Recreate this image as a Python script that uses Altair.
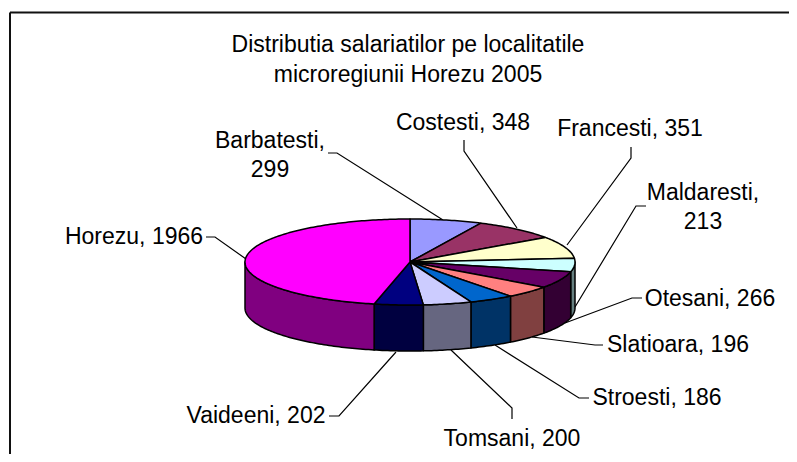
import math
import altair as alt
import pandas as pd

# --- chart values -----------------------------------------------------------
names = ["Barbatesti", "Costesti", "Francesti", "Maldaresti", "Otesani",
         "Slatioara", "Stroesti", "Tomsani", "Vaideeni", "Horezu"]
values = [299, 348, 351, 213, 266, 196, 186, 200, 202, 1966]
top_colors = ["#9999FF", "#993366", "#FFFFCC", "#CCFFFF", "#660066",
              "#FF8080", "#0066CC", "#CCCCFF", "#000080", "#FF00FF"]
side_colors = ["#4D4D80", "#4D1A33", "#808066", "#668080", "#330033",
               "#804040", "#003366", "#666680", "#000040", "#800080"]
title_text = "Distributia salariatilor pe localitatile\nmicroregiunii Horezu 2005"
label_breaks = {"Barbatesti", "Maldaresti"}

# --- layout (page pixels) ---------------------------------------------------
M = 8
W, H = 781, 446
CX, CY, RX, RY, DEPTH = 410, 262, 165, 43, 46
FONT_SIZE = 23
label_pos = {"Barbatesti": (270, 141), "Costesti": (463, 123), "Francesti": (630, 129),
             "Maldaresti": (703, 193), "Otesani": (710, 299), "Slatioara": (678, 345),
             "Stroesti": (657, 398), "Tomsani": (512, 439), "Vaideeni": (256, 416),
             "Horezu": (134, 237)}
leader_pos = {"Barbatesti": [(328, 153), (337, 153), (443, 220)],
              "Costesti": [(464, 140), (464, 151), (517, 228)],
              "Francesti": [(631, 147), (631, 158), (567, 245)],
              "Maldaresti": [(646, 206), (636, 206), (575, 307)],
              "Otesani": [(642, 298), (632, 298), (565, 323)],
              "Slatioara": [(603, 345), (595, 345), (532, 337)],
              "Stroesti": [(589, 398), (579, 398), (495, 345)],
              "Tomsani": [(512, 419), (512, 408), (451, 350)],
              "Vaideeni": [(329, 416), (339, 416), (396, 352)],
              "Horezu": [(206, 237), (215, 237), (246, 259)]}


def pt(deg, dy=0):
    a = math.radians(deg)
    return [CX + RX * math.sin(a) - M, CY - RY * math.cos(a) + dy - M]


def arc(a0, a1, dy=0):
    n = max(2, int(abs(a1 - a0)) + 2)
    return [pt(a0 + (a1 - a0) * i / (n - 1), dy) for i in range(n)]


def feature(ring, fill):
    ring = ring + [ring[0]]
    return {"type": "Feature", "properties": {"fill": fill},
            "geometry": {"type": "Polygon", "coordinates": [ring]}}


total = sum(values)
tops, walls = [], []
start = 0.0
for v, ct, cs in zip(values, top_colors, side_colors):
    end = start + v / total * 360
    tops.append(feature([[CX - M, CY - M]] + arc(start, end), ct))
    s, e = max(start, 90), min(end, 270)
    if s < e:
        walls.append(feature(arc(s, e) + arc(e, s, DEPTH), cs))
    start = end

proj = alt.Projection(type="identity", scale=1, translate=[0, 0])


def shapes(feats):
    return alt.Chart(alt.Data(values=feats)).mark_geoshape(
        stroke="black", strokeWidth=1.5, strokeJoin="round"
    ).encode(fill=alt.Fill("properties.fill:N", scale=None)).project(**proj.to_dict())


xs = alt.Scale(domain=[0, W], range=[0, W])
ys = alt.Scale(domain=[0, H], range=[0, H])
X = lambda f: alt.X(f, type="quantitative", scale=xs, axis=None)
Y = lambda f: alt.Y(f, type="quantitative", scale=ys, axis=None)

lead_rows = [{"name": k, "i": i, "x": p[0] - M, "y": p[1] - M}
             for k, pts in leader_pos.items() for i, p in enumerate(pts)]
leaders = alt.Chart(pd.DataFrame(lead_rows)).mark_line(
    color="black", strokeWidth=1.2
).encode(x=X("x"), y=Y("y"), detail="name:N", order="i:Q")

label_rows = []
for n, v in zip(names, values):
    sep = ",\n" if n in label_breaks else ", "
    label_rows.append({"t": f"{n}{sep}{v}", "x": label_pos[n][0] - M, "y": label_pos[n][1] - M})
labels = alt.Chart(pd.DataFrame(label_rows)).mark_text(
    font="Liberation Sans", fontSize=FONT_SIZE, color="black", lineBreak="\n", lineHeight=28.5,
    align="center", baseline="middle"
).encode(x=X("x"), y=Y("y"), text="t:N")

title = alt.Chart(pd.DataFrame([{"t": title_text, "x": 408 - M, "y": 45 - M}])).mark_text(
    font="Liberation Sans", fontSize=FONT_SIZE, color="black", lineBreak="\n", lineHeight=30,
    align="center", baseline="middle"
).encode(x=X("x"), y=Y("y"), text="t:N")

frame_top = alt.Chart(pd.DataFrame([{"x": 10 - M, "x2": W, "y": 12.5 - M}])).mark_rule(
    color="#111111", strokeWidth=2
).encode(x=X("x"), x2="x2:Q", y=Y("y"))
frame_left = alt.Chart(pd.DataFrame([{"x": 10 - M, "y": 12.5 - M, "y2": H}])).mark_rule(
    color="#111111", strokeWidth=2
).encode(x=X("x"), y=Y("y"), y2="y2:Q")

chart = alt.layer(
    frame_top, frame_left, leaders, shapes(walls), shapes(tops), labels, title
).resolve_scale(x="shared", y="shared").properties(
    width=W, height=H, padding=0, autosize=alt.AutoSizeParams(type="none"),
    background="white"
).configure_view(stroke=None)

chart.save("out.html", embed_options={"renderer": "svg", "actions": False})
